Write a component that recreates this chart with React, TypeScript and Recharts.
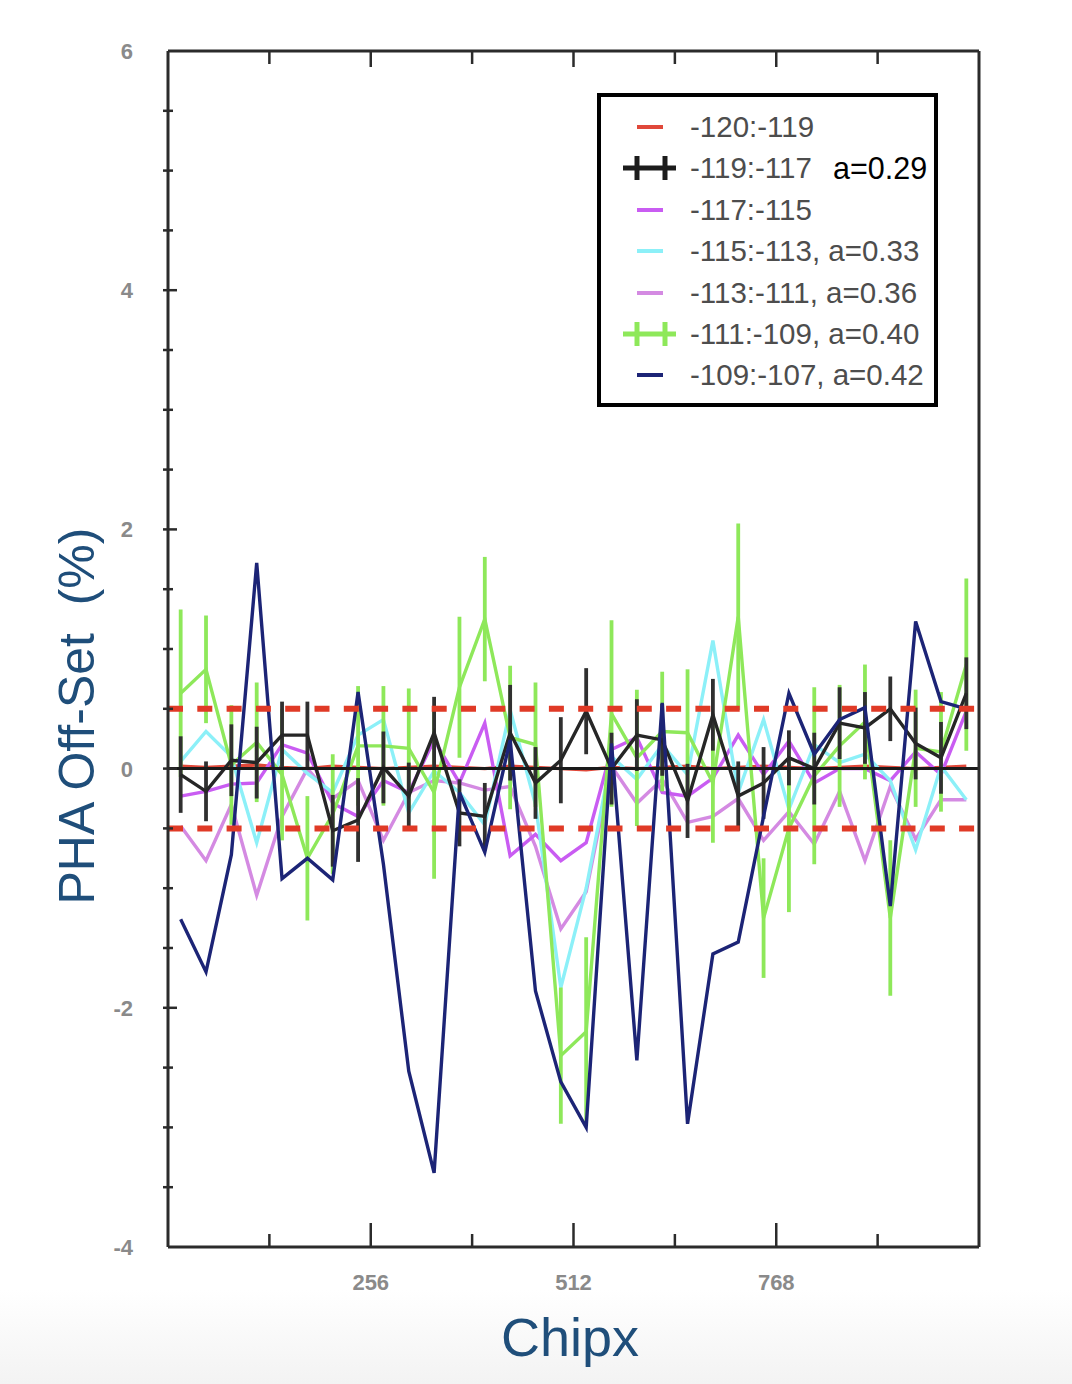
import { LineChart, Line, XAxis, YAxis, ReferenceLine, ErrorBar } from "recharts";

// chip pixel bin centres
const CHIPX = [
  16, 48, 80, 112, 144, 176, 208, 240, 272, 304, 336, 368, 400, 432, 464, 496,
  528, 560, 592, 624, 656, 688, 720, 752, 784, 816, 848, 880, 912, 944, 976, 1008,
];

const RED = [
  0.02, 0.01, 0.02, 0.03, 0.01, 0.0, 0.02, 0.01, 0.0, 0.01, 0.02, 0.01, 0.0, 0.02, 0.01, 0.0,
  -0.01, 0.01, 0.0, 0.01, 0.02, 0.0, 0.01, 0.02, 0.01, 0.0, 0.01, 0.02, 0.01, 0.0, 0.01, 0.02,
];
const BLACK = [
  -0.05, -0.19, 0.07, 0.05, 0.28, 0.28, -0.52, -0.43, 0.01, -0.23, 0.3, -0.37, -0.4, 0.3, -0.12, 0.07,
  0.48, 0.0, 0.28, 0.24, -0.27, 0.45, -0.23, -0.12, 0.09, 0.0, 0.38, 0.34, 0.5, 0.21, 0.09, 0.63,
];
const BLACK_ERR = [
  0.32, 0.25, 0.3, 0.3, 0.28, 0.28, 0.3, 0.35, 0.3, 0.28, 0.3, 0.28, 0.28, 0.4, 0.3, 0.36,
  0.36, 0.3, 0.3, 0.3, 0.31, 0.3, 0.29, 0.3, 0.23, 0.3, 0.3, 0.3, 0.27, 0.3, 0.3, 0.3,
];
const VIOLET = [
  -0.23, -0.19, -0.13, -0.12, 0.2, 0.13, -0.29, -0.4, -0.1, -0.2, 0.24, -0.12, 0.38, -0.73, -0.55, -0.77,
  -0.62, 0.16, 0.26, -0.2, -0.23, -0.08, 0.28, -0.05, 0.23, -0.12, 0.0, 0.0, -0.1, 0.14, -0.05, 0.48,
];
const CYAN = [
  0.06, 0.31, 0.1, -0.62, 0.16, -0.04, -0.2, 0.28, 0.41, -0.37, -0.02, -0.2, -0.47, 0.49, -0.3, -1.83,
  -1.0, 0.1, -0.09, 0.2, -0.05, 1.07, -0.2, 0.41, -0.34, 0.2, 0.05, 0.12, -0.1, -0.68, 0.02, -0.26,
];
const ORCHID = [
  -0.48, -0.77, -0.3, -1.06, -0.4, 0.0, -0.25, -0.1, -0.6, -0.2, -0.1, -0.12, -0.18, -0.15, -0.65, -1.34,
  -1.03, 0.02, -0.29, -0.09, -0.45, -0.4, -0.25, -0.6, -0.36, -0.63, -0.19, -0.77, -0.15, -0.59, -0.26, -0.26,
];
const GREEN = [
  0.63, 0.83, 0.03, 0.22, -0.05, -0.75, -0.38, 0.19, 0.19, 0.17, -0.2, 0.68, 1.25, 0.26, 0.2, -2.4,
  -2.2, 0.46, 0.09, 0.31, 0.3, -0.12, 1.27, -1.25, -0.5, -0.06, 0.19, 0.39, -1.25, 0.17, 0.14, 0.87,
];
const GREEN_ERR = [
  0.7, 0.45, 0.5, 0.5, 0.55, 0.52, 0.5, 0.5, 0.5, 0.5, 0.72, 0.59, 0.52, 0.6, 0.52, 0.57,
  0.79, 0.78, 0.57, 0.5, 0.53, 0.5, 0.78, 0.5, 0.7, 0.74, 0.51, 0.48, 0.65, 0.49, 0.5, 0.72,
];
const NAVY = [
  -1.26, -1.7, -0.72, 1.72, -0.92, -0.75, -0.93, 0.64, -0.8, -2.53, -3.38, -0.2, -0.7, 0.24, -1.86, -2.62,
  -3.0, 0.21, -2.44, 0.55, -2.97, -1.55, -1.45, -0.4, 0.63, 0.12, 0.41, 0.51, -1.15, 1.23, 0.56, 0.5,
];

const X_TICKS = [128, 256, 384, 512, 640, 768, 896];
const X_LABELS = [256, 512, 768];
const Y_TICKS = [-4, -3.5, -3, -2.5, -2, -1.5, -1, -0.5, 0, 0.5, 1, 1.5, 2, 2.5, 3, 3.5, 4, 4.5, 5, 5.5, 6];
const Y_LABELS = [-4, -2, 0, 2, 4, 6];
const LIMITS = [0.5, -0.5];

const LEGEND_LABELS = [
  "-120:-119",
  "-119:-117",
  "-117:-115",
  "-115:-113, a=0.33",
  "-113:-111, a=0.36",
  "-111:-109, a=0.40",
  "-109:-107, a=0.42",
];
const LEGEND_EXTRA = ["", "a=0.29", "", "", "", "", ""];
const COLORS = ["#e0483a", "#1c1c1c", "#c95cf2", "#8cf0f8", "#d48ae2", "#8ee85a", "#1c2476"];
const CROSSED = [false, true, false, false, false, true, false];

const FRAME = "#2b2b2b";
const TITLE = "#1f4e7a";
const FONT = "'Liberation Sans', Arial, sans-serif";
const LW = 3.4;

const data = CHIPX.map((x, i) => ({
  chipx: x,
  red: RED[i],
  black: BLACK[i],
  blackErr: BLACK_ERR[i],
  violet: VIOLET[i],
  cyan: CYAN[i],
  orchid: ORCHID[i],
  green: GREEN[i],
  greenErr: GREEN_ERR[i],
  navy: NAVY[i],
}));

function BottomTick(props: any) {
  const { x, y, payload } = props;
  const v = payload.value;
  const long = v % 256 === 0;
  return (
    <g>
      <line x1={x} x2={x} y1={y} y2={y - (long ? 24 : 13)} stroke={FRAME} strokeWidth={2.5} />
      {X_LABELS.includes(v) && (
        <text x={x} y={y + 43} textAnchor="middle" fill="#8a8a8a" fontSize={22} fontWeight={600} fontFamily={FONT}>
          {v}
        </text>
      )}
    </g>
  );
}

function TopTick(props: any) {
  const { x, y, payload } = props;
  const long = payload.value % 256 === 0;
  return <line x1={x} x2={x} y1={y} y2={y + (long ? 16 : 13)} stroke={FRAME} strokeWidth={2.5} />;
}

function LeftTick(props: any) {
  const { x, y, payload } = props;
  const v = payload.value;
  const isInt = Number.isInteger(v);
  return (
    <g>
      {v > -4 && v < 6 && (
        <line x1={x - 5} x2={x + (isInt && v % 2 === 0 ? 9 : 5)} y1={y} y2={y} stroke={FRAME} strokeWidth={2.5} />
      )}
      {Y_LABELS.includes(v) && (
        <text x={x - 35} y={y + 8} textAnchor="end" fill="#8a8a8a" fontSize={22} fontWeight={600} fontFamily={FONT}>
          {v}
        </text>
      )}
    </g>
  );
}

function RightTick(props: any) {
  const { x, y, payload } = props;
  const v = payload.value;
  if (!Number.isInteger(v) || v <= -4 || v >= 6) return <g />;
  const long = v % 2 === 0;
  return <line x1={x + 4} x2={x - (long ? 15 : 6)} y1={y} y2={y} stroke={FRAME} strokeWidth={2.5} />;
}

function ChartLegend() {
  return (
    <div
      style={{
        position: "absolute",
        left: 597,
        top: 93,
        width: 341,
        height: 314,
        border: "4px solid #000",
        boxSizing: "border-box",
        background: "#fff",
        fontFamily: FONT,
      }}
    >
      {LEGEND_LABELS.map((label, i) => (
        <div key={label} style={{ position: "absolute", left: 0, top: 30 + i * 41.4 - 20, height: 40, width: 400 }}>
          <svg width={90} height={40} style={{ position: "absolute", left: 0, top: 0 }}>
            {CROSSED[i] ? (
              <g stroke={COLORS[i]} strokeWidth={5}>
                <line x1={22} x2={75} y1={20} y2={20} />
                <line x1={36} x2={36} y1={8} y2={32} />
                <line x1={64} x2={64} y1={8} y2={32} />
              </g>
            ) : (
              <line x1={36} x2={62} y1={20} y2={20} stroke={COLORS[i]} strokeWidth={4} />
            )}
          </svg>
          <span style={{ position: "absolute", left: 89, top: 0, lineHeight: "40px", fontSize: 29.5, color: "#4d4d4d", whiteSpace: "pre" }}>
            {label}
          </span>
          {LEGEND_EXTRA[i] && (
            <span style={{ position: "absolute", left: 232, top: 0, lineHeight: "40px", fontSize: 30.5, color: "#000" }}>
              {LEGEND_EXTRA[i]}
            </span>
          )}
        </div>
      ))}
    </div>
  );
}

export default function App() {
  return (
    <div
      style={{
        position: "absolute",
        left: 0,
        top: 0,
        width: 1072,
        height: 1384,
        background: "linear-gradient(#ffffff 0px, #ffffff 1290px, #f3f3f3 1384px)",
        fontFamily: FONT,
      }}
    >
      <LineChart width={1072} height={1384} data={data} margin={{ top: 50, right: 92, bottom: 136, left: 167 }}>
        <XAxis
          dataKey="chipx"
          type="number"
          domain={[0, 1024]}
          ticks={X_TICKS}
          interval={0}
          height={1}
          tickSize={0}
          tickMargin={0}
          tickLine={false}
          axisLine={{ stroke: FRAME, strokeWidth: 3 }}
          tick={<BottomTick />}
        />
        <XAxis
          xAxisId="top"
          orientation="top"
          dataKey="chipx"
          type="number"
          domain={[0, 1024]}
          ticks={X_TICKS}
          interval={0}
          height={1}
          tickSize={0}
          tickMargin={0}
          tickLine={false}
          axisLine={{ stroke: FRAME, strokeWidth: 3 }}
          tick={<TopTick />}
        />
        <YAxis
          type="number"
          domain={[-4, 6]}
          ticks={Y_TICKS}
          interval={0}
          width={1}
          tickSize={0}
          tickMargin={0}
          tickLine={false}
          axisLine={{ stroke: FRAME, strokeWidth: 3 }}
          tick={<LeftTick />}
        />
        <YAxis
          yAxisId="right"
          orientation="right"
          type="number"
          domain={[-4, 6]}
          ticks={Y_TICKS}
          interval={0}
          width={1}
          tickSize={0}
          tickMargin={0}
          tickLine={false}
          axisLine={{ stroke: FRAME, strokeWidth: 3 }}
          tick={<RightTick />}
        />
        <Line dataKey="red" type="linear" stroke={COLORS[0]} strokeWidth={LW} dot={false} activeDot={false} isAnimationActive={false} />
        <Line dataKey="orchid" type="linear" stroke={COLORS[4]} strokeWidth={LW} dot={false} activeDot={false} isAnimationActive={false} />
        <Line dataKey="violet" type="linear" stroke={COLORS[2]} strokeWidth={LW} dot={false} activeDot={false} isAnimationActive={false} />
        <Line dataKey="cyan" type="linear" stroke={COLORS[3]} strokeWidth={LW} dot={false} activeDot={false} isAnimationActive={false} />
        <Line dataKey="green" type="linear" stroke={COLORS[5]} strokeWidth={LW} dot={false} activeDot={false} isAnimationActive={false}>
          <ErrorBar dataKey="greenErr" direction="y" width={0} stroke={COLORS[5]} strokeWidth={3.8} />
        </Line>
        <Line dataKey="black" type="linear" stroke="#262626" strokeWidth={LW} dot={false} activeDot={false} isAnimationActive={false}>
          <ErrorBar dataKey="blackErr" direction="y" width={0} stroke="#303030" strokeWidth={3.8} />
        </Line>
        <Line dataKey="navy" type="linear" stroke={COLORS[6]} strokeWidth={LW} dot={false} activeDot={false} isAnimationActive={false} />
        <ReferenceLine y={0} stroke="#1a1a1a" strokeWidth={3} />
        {LIMITS.map((v) => (
          <ReferenceLine key={v} y={v} stroke="#e03a26" strokeWidth={6} strokeDasharray="15 14.3" />
        ))}
      </LineChart>
      <ChartLegend />
      <div
        style={{
          position: "absolute",
          left: 77,
          top: 716,
          transform: "translate(-50%, -50%) rotate(-90deg)",
          whiteSpace: "pre",
          fontSize: 50,
          color: TITLE,
          lineHeight: 1,
        }}
      >
        {"PHA Off-Set  (%)"}
      </div>
      <div
        style={{
          position: "absolute",
          left: 570,
          top: 1337,
          transform: "translate(-50%, -50%)",
          fontSize: 54,
          color: TITLE,
          lineHeight: 1,
        }}
      >
        Chipx
      </div>
    </div>
  );
}
